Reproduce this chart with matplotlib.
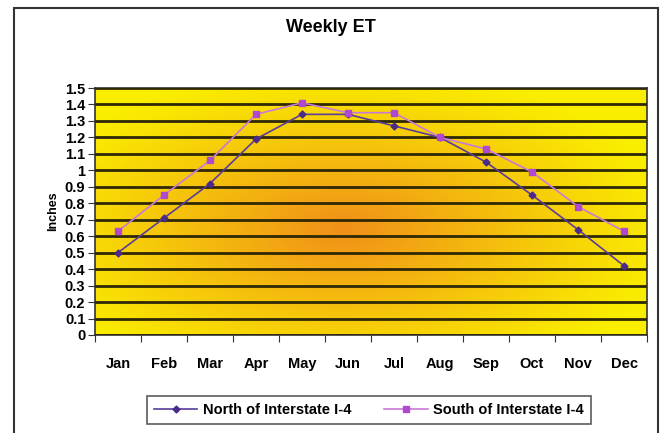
import numpy as np
import matplotlib
matplotlib.use('Agg')
import matplotlib.pyplot as plt
from matplotlib.patches import Rectangle
from matplotlib.ticker import FixedLocator, FuncFormatter

plt.rcParams['font.family'] = ['Liberation Sans', 'DejaVu Sans']

# Data (inches per week)
months = ['Jan', 'Feb', 'Mar', 'Apr', 'May', 'Jun',
          'Jul', 'Aug', 'Sep', 'Oct', 'Nov', 'Dec']
north = [0.50, 0.71, 0.92, 1.19, 1.34, 1.34, 1.27, 1.20, 1.05, 0.85, 0.64, 0.42]
south = [0.63, 0.85, 1.06, 1.34, 1.41, 1.35, 1.35, 1.20, 1.13, 0.99, 0.78, 0.63]
y_ticks = [0, 0.1, 0.2, 0.3, 0.4, 0.5, 0.6, 0.7, 0.8, 0.9, 1.0,
           1.1, 1.2, 1.3, 1.4, 1.5]

fig = plt.figure(figsize=(6.62, 4.33), dpi=100)
fig.patch.set_facecolor('white')

# outer chart border (bottom runs off the picture)
fig.patches.append(Rectangle((14 / 662, -0.05), 644 / 662, 1 - 8 / 433 + 0.05,
                             transform=fig.transFigure, fill=False,
                             edgecolor='#333333', linewidth=1.5))

ax = fig.add_axes([95 / 662, 1 - 335 / 433, 552 / 662, 247 / 433])

# yellow background with orange glow in the middle
gx, gy = np.meshgrid(np.linspace(0, 1, 300), np.linspace(0, 1, 200))
r = np.sqrt(((gx - 0.45) / 0.6) ** 2 + ((gy - 0.43) / 0.65) ** 2)
t = np.clip(1 - r, 0, 1) ** 1.1
yellow = np.array([0.98, 0.93, 0.0])
orange = np.array([0.94, 0.56, 0.10])
img = yellow[None, None, :] * (1 - t[..., None]) + orange[None, None, :] * t[..., None]
ax.imshow(img, extent=[0, 1, 0, 1], transform=ax.transAxes, aspect='auto',
          origin='lower', zorder=0)

x = np.arange(len(months)) + 0.5
ax.plot(x, north, color='#5a3c9a', linewidth=1.2, marker='D', markersize=3.5,
        markerfacecolor='#4a2a8a', markeredgecolor='#4a2a8a',
        label='North of Interstate I-4', zorder=3)
ax.plot(x, south, color='#c87ad8', linewidth=1.2, marker='s', markersize=4,
        markerfacecolor='#b048d0', markeredgecolor='#b048d0',
        label='South of Interstate I-4', zorder=3)

ax.set_xlim(0, len(months))
ax.set_ylim(0, 1.5)
ax.yaxis.set_major_locator(FixedLocator(y_ticks))
ax.yaxis.set_major_formatter(FuncFormatter(lambda v, p: f'{v:g}'))
ax.grid(axis='y', color='#2e2806', linewidth=2.0, zorder=1)
ax.set_axisbelow(False)

ax.set_xticks(np.arange(len(months) + 1))
ax.set_xticklabels([])
ax.set_xticks(x, minor=True)
ax.set_xticklabels(months, minor=True, fontsize=10.5, fontweight='bold')
ax.tick_params(axis='x', which='minor', length=0, pad=16)
ax.tick_params(axis='x', which='major', length=5, color='#333333')
ax.tick_params(axis='y', length=5, labelsize=10.5, pad=2, color='#333333')
for lab in ax.get_yticklabels():
    lab.set_fontweight('bold')

for s in ax.spines.values():
    s.set_color('#333333')
    s.set_linewidth(1.2)

ax.set_ylabel('Inches', fontsize=9, fontweight='bold', labelpad=4)
fig.text(0.5, 1 - 28 / 433, 'Weekly ET', ha='center', va='center',
         fontsize=13, fontweight='bold')

leg = fig.legend(loc='center', bbox_to_anchor=(369 / 662, 1 - 410 / 433),
                 ncol=2, frameon=True, fancybox=False,
                 prop={'weight': 'bold', 'size': 10.5}, handlelength=3.0,
                 columnspacing=2.2, borderpad=0.45, handletextpad=0.4,
                 borderaxespad=0)
leg.get_frame().set_edgecolor('#333333')
leg.get_frame().set_linewidth(1.2)

fig.savefig('out.png', dpi=100)
